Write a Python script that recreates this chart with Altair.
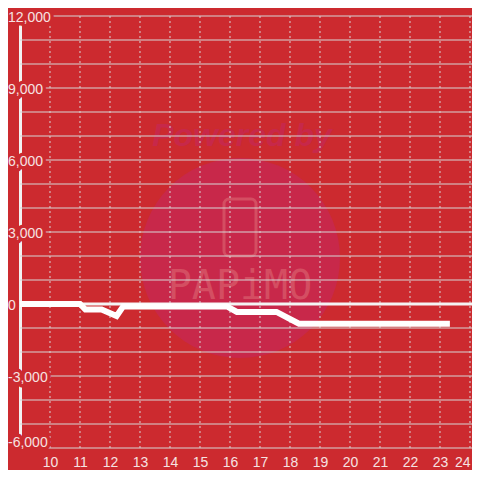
import altair as alt
import pandas as pd

# ---- data ----
line_x = [9.0, 11.0, 11.18, 11.72, 12.22, 12.44, 15.9, 16.23, 17.55, 18.3, 23.33]
line_y = [0, 0, -230, -230, -500, -100, -100, -330, -330, -820, -820]

x_ticks = list(range(10, 25))
y_grid = list(range(-6000, 12001, 1000))
y_label_vals = [12000, 9000, 6000, 3000, 0, -3000, -6000]
y_label_txt = ["12,000", "9,000", "6,000", "3,000", "0", "-3,000", "-6,000"]

BG = "#cc2a2f"
GRID = "#d6d6d6"
LABEL = "#f6e2e2"
FONT = "Liberation Sans"

xscale = alt.Scale(domain=[9, 24.067], nice=False, zero=False)
yscale = alt.Scale(domain=[-6000, 12000], nice=False, zero=False)
xaxis = alt.Axis(values=x_ticks, format="d", title=None)
yaxis = alt.Axis(title=None)

line_df = pd.DataFrame({"x": line_x, "y": line_y})
grid_y_df = pd.DataFrame({"y": y_grid})
grid_x_df = pd.DataFrame({"x": x_ticks})
lab_df = pd.DataFrame({"y": y_label_vals, "t": y_label_txt})
one = pd.DataFrame({"a": [0]})
ymin = min(y_label_vals)

# watermark (decoration)
circle = alt.Chart(one).mark_circle(size=40000, color="#c8284a", opacity=1, clip=False).encode(
    x=alt.value(220), y=alt.value(242))
powered = alt.Chart(one).mark_text(
    text="Powered by", font=FONT, fontSize=32, fontWeight="bold", fontStyle="italic",
    color="#c7284a", baseline="middle", align="center").encode(
    x=alt.value(222), y=alt.value(120))
phone = alt.Chart(one).mark_rect(
    fill=None, stroke="#d44e62", strokeWidth=3, cornerRadius=5, fillOpacity=0).encode(
    x=alt.value(204), x2=alt.value(236), y=alt.value(183), y2=alt.value(240))
papimo = alt.Chart(one).mark_text(
    text="PAPiMO", font="DejaVu Sans Mono", fontSize=40, color="#d44e62",
    baseline="middle", align="center").encode(
    x=alt.value(220), y=alt.value(271))

grid_h = alt.Chart(grid_y_df).mark_rule(color=GRID, strokeWidth=1).encode(
    y=alt.Y("y:Q", scale=yscale, axis=yaxis))
grid_v = alt.Chart(grid_x_df).mark_rule(color=GRID, strokeWidth=1, strokeDash=[2, 3]).encode(
    x=alt.X("x:Q", scale=xscale, axis=xaxis))


def label_layers(flt, dy):
    base = alt.Chart(lab_df).transform_filter(flt)
    enc = dict(x=alt.value(-12), y=alt.Y("y:Q", scale=yscale, axis=yaxis), text="t:N")
    h = base.mark_text(
        font=FONT, fontSize=14, align="left", baseline="middle", dy=dy, clip=False,
        fill=BG, stroke=BG, strokeWidth=7, strokeJoin="round").encode(**enc)
    t = base.mark_text(
        font=FONT, fontSize=14, align="left", baseline="middle", dy=dy, clip=False,
        color=LABEL).encode(**enc)
    return h, t


halo_a, lab_a = label_layers(alt.datum.y > ymin, 2)
halo_b, lab_b = label_layers(alt.datum.y <= ymin, -5)

zero = alt.Chart(one).mark_rule(color="#f4f4f4", strokeWidth=3).encode(
    y=alt.datum(0, scale=yscale))

line = alt.Chart(line_df).mark_line(color="#ffffff", strokeWidth=6).encode(
    x=alt.X("x:Q", scale=xscale, axis=xaxis),
    y=alt.Y("y:Q", scale=yscale, axis=yaxis))

chart = alt.layer(circle, powered, phone, papimo, grid_h, grid_v,
                  halo_a, halo_b, lab_a, lab_b, zero, line).properties(
    width=452, height=432,
    padding={"left": 12, "top": 8, "right": 0, "bottom": 22},
    autosize=alt.AutoSizeParams(type="none"),
    background=BG,
).configure_view(strokeWidth=0).configure_axis(
    grid=False, ticks=False, tickSize=0,
).configure_axisY(
    labels=False, domain=True, domainColor="#f2f2f2", domainWidth=3,
).configure_axisX(
    domain=False, labelColor=LABEL, labelFont=FONT, labelFontSize=14,
    labelBaseline="top", labelPadding=7, labelFlush=5,
)

chart.save("out.html", embed_options={"renderer": "svg", "actions": False})
